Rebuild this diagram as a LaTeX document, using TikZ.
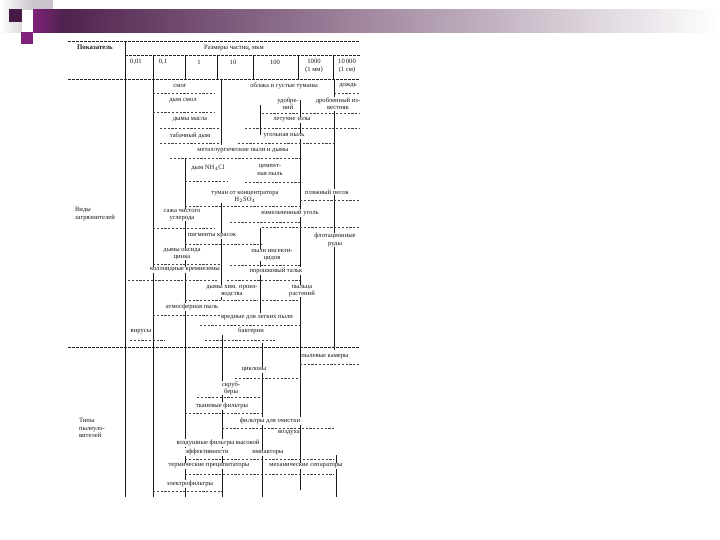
\documentclass[tikz,border=0pt]{standalone}
\usepackage{fontspec}
\setmainfont{Liberation Serif}
\usetikzlibrary{calc}
\definecolor{barpurple}{RGB}{80,34,78}
\definecolor{barmagenta}{RGB}{128,34,122}
\definecolor{sqdark}{RGB}{70,26,68}
\definecolor{sqgrey}{RGB}{204,196,204}
\definecolor{barmid}{RGB}{170,156,170}
\tikzset{
  lbl/.style={inner sep=0.6pt, fill=white, font=\fontsize{6.6}{7.2}\selectfont, text=black!90, align=center},
  side/.style={lbl, align=left},
  hdr/.style={lbl, font=\fontsize{6.8}{7.4}\selectfont\bfseries},
  rng/.style={dash pattern=on 2.2pt off 1.6pt, line width=0.5pt, black!75},
  rule/.style={dash pattern=on 3pt off 1pt, line width=0.6pt, black!85},
  bnd/.style={line width=0.6pt, black!90},
}

\begin{document}
\begin{tikzpicture}[x=1pt,y=-1pt]
			%%%%% START %%%%%
			\useasboundingbox (0,0) rectangle (720,540);
			\fill[white] (0,0) rectangle (720,540);
			
			% title bar and corner squares
			\shade[left color=white, right color=sqgrey] (0,0) rectangle (33,33);
			\fill[white] (22,10) rectangle (33,32);
			\fill[sqgrey] (33,0) rectangle (53,10);
			\fill[sqdark] (9,9) rectangle (22,22);
			\fill[barmagenta] (21,32) rectangle (33,44);
			\shade[left color=barmagenta, right color=barpurple] (33,10) rectangle (62,33);
			\shade[left color=barpurple, middle color=barmid, right color=white] (62,10) rectangle (720,33);
			
			% long vertical lines
			\draw[bnd, line width=0.8pt] (125,41) -- (125,497);
			\draw[bnd] (153,79) -- (153,497);
			\draw[bnd] (185,158) -- (185,497);
			\draw[bnd] (221,79) -- (221,145);
			\draw[bnd] (221,200) -- (221,300);
			\draw[bnd] (222,335) -- (222,497);
			\draw[bnd] (260,105) -- (260,135);
			\draw[bnd] (260,228) -- (260,313);
			\draw[bnd] (262,343) -- (262,497);
			\draw[bnd] (300,100) -- (300,490);
			\draw[bnd] (334,79) -- (334,350);
			\draw[bnd] (336,455) -- (336,497);
			
			% header
			\draw[rule] (68,41) -- (360,41);
			\draw[rule] (125,55) -- (360,55);
			\draw[rule] (68,79) -- (360,79);
			\foreach \cx in {153,185,217,253,298,333}
				\draw[bnd] (\cx,55) -- (\cx,79);
			\node[hdr] (pokaz) at (95,47) {Показатель};
			\node[lbl] (razmer) at (234,48) {Размеры частиц, мкм};
			\node[lbl] (col1) at (136,62) {0,01};
			\node[lbl] (col2) at (163,62) {0,1};
			\node[lbl] (col3) at (199,62) {1};
			\node[lbl] (col4) at (233,62) {10};
			\node[lbl] (col5) at (275,62) {100};
			\node[lbl] (col6) at (314,66) {1000\\(1 мм)};
			\node[lbl] (col7) at (347,66) {10\,000\\(1 см)};
			
			% pollutants
			\node[side] (vidy) at (95,214) {Виды\\загрязнителей};
			
			\draw[rng] (153,93) -- (215,93);
			\draw[rng] (334,93) -- (360,93);
			\node[lbl] (smog) at (180,86) {смог};
			\node[lbl] (oblaka) at (284,86) {облака и густые туманы};
			\node[lbl] (dozhd) at (348,86) {дождь};
			
			\draw[rng] (153,112) -- (215,112);
			\draw[rng] (262,113) -- (300,113);
			\draw[rng] (302,113) -- (360,113);
			\node[lbl] (dymsmol) at (183,101) {дым смол};
			\node[lbl] (udobr) at (288,104) {удобре-\\ний};
			\node[lbl] (izvest) at (338,104) {дробленный из-\\вестняк};
			
			\draw[rng] (160,128) -- (221,128);
			\draw[rng] (245,128) -- (360,128);
			\node[lbl] (maslo) at (190,120) {дымы масла};
			\node[lbl] (zola) at (292,120) {летучие золы};
			
			\draw[rng] (160,143) -- (221,143);
			\draw[rng] (238,143) -- (334,143);
			\node[lbl] (tabak) at (190,136) {табачный дым};
			\node[lbl] (ugpyl) at (284,136) {угольная пыль};
			
			\draw[rng] (170,158) -- (300,158);
			\node[lbl] (metall) at (243,151) {металлургические пыли и дымы};
			
			\draw[rng] (185,181) -- (228,181);
			\draw[rng] (245,182) -- (300,182);
			\node[lbl] (nh4cl) at (208,168) {дым NH$_4$Cl};
			\node[lbl] (cement) at (270,170) {цемент-\\ная пыль};
			
			\draw[rng] (185,206) -- (300,206);
			\draw[rng] (300,200) -- (360,200);
			\node[lbl] (tuman) at (245,197) {туман от концентратора\\H$_2$SO$_4$};
			\node[lbl] (pesok) at (327,192) {пляжный песок};
			
			\draw[rng] (153,228) -- (215,228);
			\draw[rng] (230,222) -- (300,222);
			\draw[rng] (262,227) -- (360,227);
			\node[lbl] (sazha) at (182,215) {сажа чистого\\углерода};
			\node[lbl] (ugol) at (290,213) {измельченный уголь};
			
			\draw[rng] (185,244) -- (262,244);
			\node[lbl] (pigment) at (212,236) {пигменты красок};
			\node[lbl] (flot) at (335,240) {флотационные\\руды};
			
			\draw[rng] (153,264) -- (221,264);
			\draw[rng] (230,265) -- (300,265);
			\node[lbl] (cink) at (182,254) {дымы оксида\\цинка};
			\node[lbl] (insekt) at (272,255) {пыли инсекти-\\цидов};
			
			\draw[rng] (128,280) -- (217,280);
			\draw[rng] (227,280) -- (300,280);
			\node[lbl] (kremn) at (185,270) {коллоидные кремнеземы};
			\node[lbl] (talk) at (276,271) {порошковый тальк};
			
			\draw[rng] (185,300) -- (258,300);
			\draw[rng] (262,300) -- (300,300);
			\node[lbl] (himdym) at (232,291) {дымы хим. произ-\\водства};
			\node[lbl] (pylca) at (302,291) {пыльца\\растений};
			
			\draw[rng] (153,315) -- (221,315);
			\node[lbl] (atmos) at (192,307) {атмосферная пыль};
			
			\draw[rng] (200,325) -- (300,325);
			\node[lbl] (vrednye) at (257,318) {вредные для легких пыли};
			
			\draw[rng] (130,340) -- (165,340);
			\draw[rng] (205,340) -- (275,340);
			\node[lbl] (virus) at (141,332) {вирусы};
			\node[lbl] (bakter) at (251,331) {бактерии};
			
			\draw[rule] (68,347) -- (360,347);
			
			% collectors
			\node[side] (tipy) at (92,428) {Типы\\пылеуло-\\вителей};
			
			\draw[rng] (300,364) -- (360,364);
			\node[lbl] (kamery) at (325,357) {пылевые камеры};
			
			\draw[rng] (235,378) -- (300,378);
			\node[lbl] (ciklon) at (254,370) {циклоны};
			
			\draw[rng] (197,397) -- (262,397);
			\node[lbl] (skrubb) at (231,388) {скруб-\\беры};
			
			\draw[rng] (185,413) -- (262,413);
			\node[lbl] (tkan) at (222,406) {тканевые фильтры};
			
			\draw[rng] (222,428) -- (334,428);
			\node[lbl] (filtr) at (270,421) {фильтры для очистки};
			\node[lbl] (vozduh) at (289,433) {воздуха};
			
			\draw[rng] (185,459) -- (334,459);
			\node[lbl] (vysok) at (218,443) {воздушные фильтры высокой};
			\node[lbl] (effekt) at (207,452) {эффективности};
			\node[lbl] (impakt) at (268,453) {импакторы};
			
			\draw[rng] (185,474) -- (334,474);
			\node[lbl] (termich) at (209,466) {термические преципитаторы};
			\node[lbl] (mehan) at (306,466) {механические сепараторы};
			
			\draw[rng] (153,491) -- (222,491);
			\node[lbl] (elektr) at (190,484) {электрофильтры};
			
			%%%%% END %%%%%
		\end{tikzpicture}
\end{document}
